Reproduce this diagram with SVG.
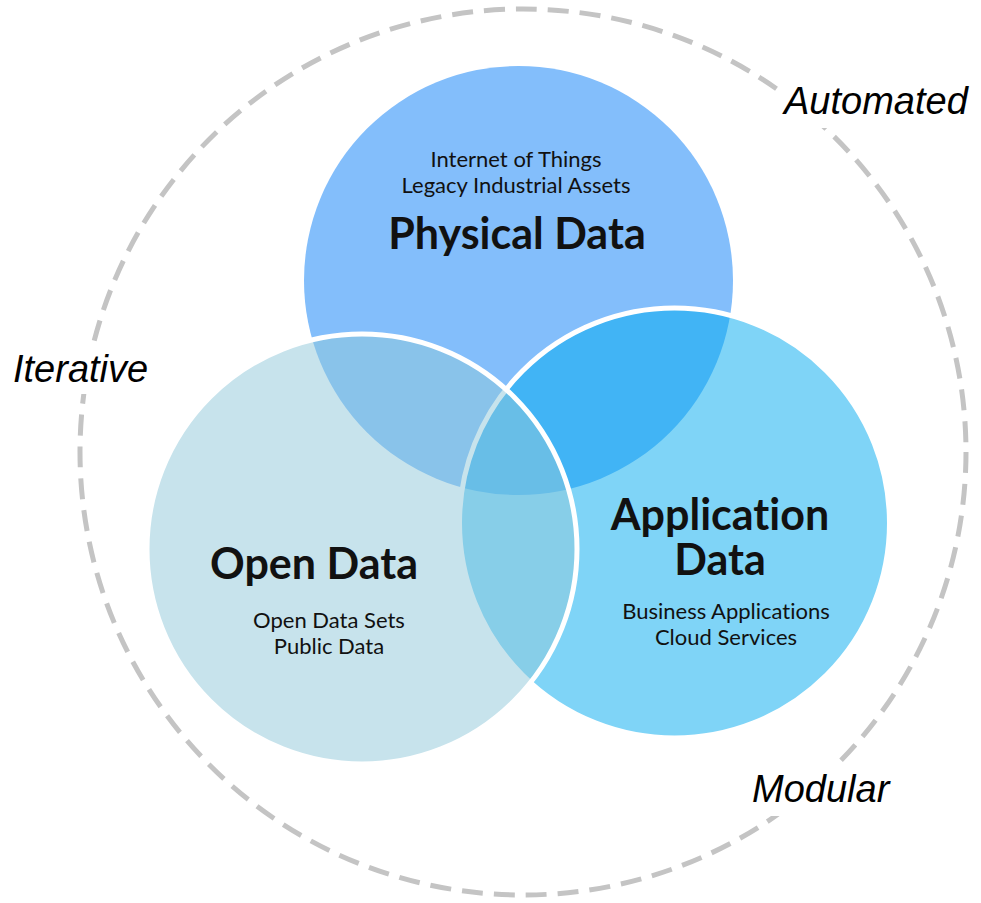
<svg xmlns="http://www.w3.org/2000/svg" width="981" height="903" viewBox="0 0 981 903">
<style>
.title{font-family:Lato,"Open Sans","Liberation Sans",sans-serif;font-weight:700;font-size:43px;fill:#111;text-anchor:middle;font-variant-ligatures:none}
.sub{font-family:Lato,"Open Sans","Liberation Sans",sans-serif;font-size:22px;fill:#111;text-anchor:middle;font-variant-ligatures:none}
.tag{font-family:"Liberation Sans",Arial,sans-serif;font-style:italic;font-size:38px;fill:#000}
.ring{fill:none;stroke:#c4c4c4;stroke-width:5;stroke-dasharray:21 11}
</style>
<rect width="981" height="903" fill="#fff"/>
<g id="ring">
<circle class="ring" cx="523" cy="452" r="443"/>
</g>
<g id="label-automated">
<rect x="778" y="78" width="198" height="50" fill="#fff"/>
<text class="tag" x="784" y="114">Automated</text>
</g>
<g id="label-iterative">
<rect x="8" y="342" width="146" height="52" fill="#fff"/>
<text class="tag" x="13" y="382">Iterative</text>
</g>
<g id="label-modular">
<rect x="746" y="764" width="150" height="52" fill="#fff"/>
<text class="tag" x="752" y="802">Modular</text>
</g>
<g id="physical-data">
<circle cx="518.5" cy="280.5" r="214.5" fill="#83befb"/>
<text class="sub" x="516" y="167">Internet of Things</text>
<text class="sub" x="516" y="193">Legacy Industrial Assets</text>
<text class="title" x="517" y="249">Physical Data</text>
</g>
<g id="application-data">
<circle cx="674.5" cy="523" r="215" fill="#00a9ef" fill-opacity="0.5" stroke="#fff" stroke-width="5"/>
<text class="title" x="720" y="530">Application</text>
<text class="title" x="720" y="575">Data</text>
<text class="sub" x="726" y="619">Business Applications</text>
<text class="sub" x="726" y="645">Cloud Services</text>
</g>
<g id="open-data">
<circle cx="362" cy="549" r="215" fill="#8fc7d9" fill-opacity="0.5" stroke="#fff" stroke-width="5"/>
<text class="title" x="314" y="579">Open Data</text>
<text class="sub" x="329" y="628">Open Data Sets</text>
<text class="sub" x="329" y="654">Public Data</text>
</g>
</svg>
